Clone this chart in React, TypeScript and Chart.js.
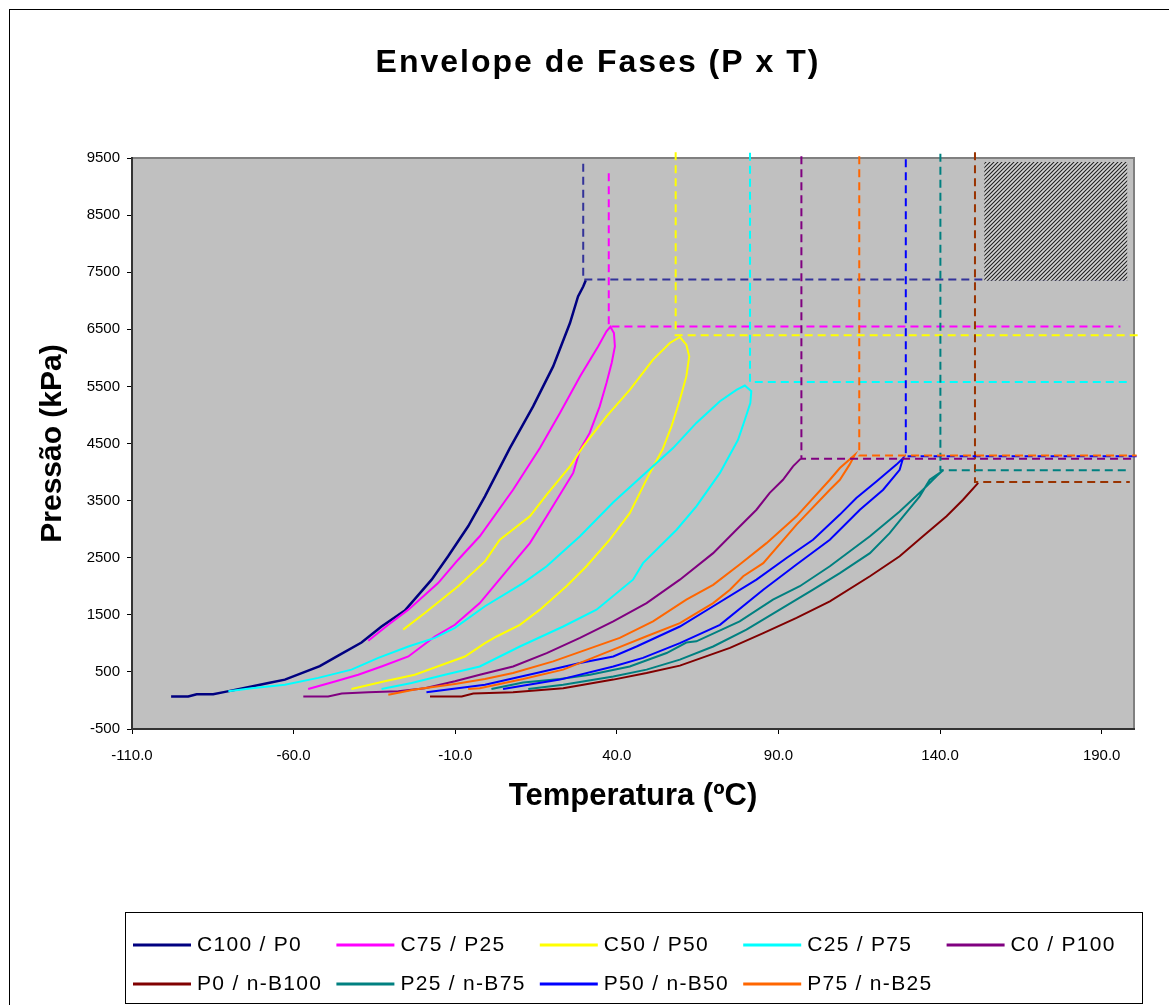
import React, { useEffect, useRef } from "react";
import { Chart, registerables } from "chart.js";

Chart.register(...registerables);

// ---------- DATA ----------
const seriesNames = [
  "C100 / P0",
  "C75 / P25",
  "C50 / P50",
  "C25 / P75",
  "C0 / P100",
  "P0 / n-B100",
  "P25 / n-B75",
  "P50 / n-B50",
  "P75 / n-B25",
];
const seriesColors = ["#000080", "#FF00FF", "#FFFF00", "#00FFFF", "#800080", "#800000", "#008080", "#0000FF", "#FF6600"];
const dashColors = ["#333399", "#FF00FF", "#FFFF00", "#00FFFF", "#800080", "#993300", "#008080", "#0000FF", "#FF6600"];

// Temperatures (ºC) and pressures (kPa) of each phase envelope
const c100T = [-97.9, -92.6, -90.0, -84.9, -81.2, -73.0, -67.8, -62.7, -57.5, -51.9, -46.2, -39.0, -32.8, -25.6, -17.3, -12.2, -6.0, -0.8, 6.9, 14.1, 20.3, 25.5, 28.0, 29.6, 30.4];
const c100P = [70, 70, 110, 110, 150, 245, 305, 365, 480, 600, 785, 1015, 1295, 1575, 2115, 2525, 3050, 3575, 4420, 5150, 5850, 6610, 7075, 7250, 7360];

const c75T = [-36.9, -30.7, -24.5, -15.3, -9.1, -2.4, 7.9, 16.2, 22.4, 28.6, 34.2, 36.8, 38.0, 39.1, 39.4, 38.4, 36.8, 34.7, 31.6, 28.6, 26.5, 18.3, 13.1, 7.9, -2.4, -10.1, -16.3, -24.5, -32.8, -40.0, -48.3, -55.5];
const c75P = [1045, 1325, 1590, 2055, 2465, 2875, 3690, 4420, 5035, 5675, 6200, 6465, 6545, 6435, 6200, 5910, 5560, 5150, 4685, 4390, 3985, 3225, 2755, 2405, 1705, 1325, 1120, 770, 595, 450, 315, 200];

const c50T = [-26.1, -19.4, -9.1, -0.8, 3.8, 13.1, 18.3, 25.5, 29.6, 36.8, 44.0, 51.2, 56.4, 59.5, 61.5, 62.4, 61.5, 59.5, 56.9, 54.1, 50.2, 44.0, 37.8, 30.6, 24.4, 16.2, 10.0, 2.8, -0.8, -7.0, -22.5, -31.8, -42.1];
const c50P = [1240, 1530, 2000, 2435, 2815, 3225, 3605, 4100, 4450, 4975, 5440, 5970, 6260, 6365, 6230, 6025, 5675, 5265, 4800, 4390, 3985, 3280, 2815, 2350, 2000, 1590, 1325, 1120, 1005, 770, 450, 335, 200];

const c25T = [-80.2, -73.0, -62.7, -52.4, -42.1, -33.8, -24.5, -16.3, -10.1, -0.8, 11.0, 18.3, 28.6, 38.9, 49.2, 57.4, 64.6, 71.9, 77.0, 79.6, 81.6, 81.3, 79.6, 77.5, 71.9, 64.6, 58.5, 48.1, 45.0, 33.7, 23.4, 10.0, -2.4, -13.2, -23.5, -32.8];
const c25P = [160, 215, 275, 395, 540, 745, 945, 1095, 1270, 1650, 2055, 2350, 2875, 3470, 4000, 4420, 4860, 5240, 5440, 5515, 5415, 5210, 4915, 4565, 3985, 3400, 2990, 2405, 2115, 1590, 1295, 945, 595, 450, 305, 200];

const c0T = [-57.0, -49.3, -45.1, -36.9, -27.6, -19.4, -10.1, -2.4, 7.9, 18.3, 28.6, 38.9, 49.2, 59.5, 69.8, 77.0, 83.2, 87.3, 91.4, 94.5, 96.9];
const c0P = [70, 70, 120, 145, 160, 215, 335, 450, 595, 830, 1095, 1385, 1705, 2115, 2580, 2990, 3340, 3635, 3865, 4100, 4235];

const nb100T = [-17.8, -8.0, -4.4, 7.9, 23.4, 38.9, 49.2, 59.5, 75.0, 85.3, 95.6, 105.9, 118.3, 127.5, 134.7, 142.0, 147.1, 151.8];
const nb100P = [70, 70, 120, 145, 215, 365, 480, 610, 920, 1180, 1445, 1735, 2175, 2525, 2875, 3225, 3515, 3810];

const p25T = [1.2, 11.0, 22.4, 31.7, 44.0, 55.4, 61.5, 64.6, 78.0, 88.3, 96.6, 105.9, 118.3, 127.5, 134.7, 138.9, 140.9, 139.9, 136.8, 133.7, 128.6, 124.4, 118.3, 109.0, 100.7, 90.4, 80.1, 69.8, 59.5, 49.2, 38.9, 23.4, 12.6];
const p25P = [200, 315, 375, 450, 595, 830, 1015, 1035, 1385, 1765, 2000, 2350, 2875, 3310, 3690, 3925, 4030, 3985, 3865, 3575, 3225, 2930, 2580, 2230, 1940, 1590, 1240, 945, 715, 540, 420, 275, 200];

const p50T = [-18.9, -0.8, 15.2, 28.6, 38.9, 46.1, 59.5, 69.8, 83.2, 92.5, 100.7, 109.0, 114.1, 120.3, 126.5, 128.6, 128.4, 127.5, 122.4, 115.2, 105.9, 95.6, 85.3, 71.9, 59.5, 48.1, 38.9, 22.4, 4.8];
const p50P = [145, 275, 480, 655, 770, 945, 1295, 1650, 2115, 2495, 2815, 3255, 3545, 3835, 4130, 4245, 4215, 4040, 3690, 3340, 2815, 2380, 1940, 1325, 1005, 745, 595, 365, 200];

const p75T = [-30.7, -22.5, -10.1, -0.8, 7.9, 20.3, 30.6, 40.9, 51.2, 61.5, 69.8, 78.0, 86.3, 95.6, 105.9, 109.0, 113.6, 112.0, 109.0, 105.9, 95.6, 85.3, 79.1, 75.0, 69.8, 59.5, 49.2, 38.9, 23.4, 11.0, -2.4, -6.0];
const p75P = [100, 190, 290, 375, 480, 685, 890, 1095, 1385, 1765, 2025, 2380, 2755, 3225, 3865, 4070, 4300, 4130, 3865, 3690, 3080, 2405, 2175, 1940, 1705, 1355, 1125, 890, 540, 375, 215, 200];

const seriesT = [c100T, c75T, c50T, c25T, c0T, nb100T, p25T, p50T, p75T];
const seriesP = [c100P, c75P, c50P, c25P, c0P, nb100P, p25P, p50P, p75P];

// Critical-point guide lines (dashed): corner (T, P), top of vertical, end of horizontal
const critT = [29.6, 37.5, 58.2, 81.2, 97.1, 150.8, 140.1, 129.4, 115.0];
const critP = [7370, 6550, 6395, 5575, 4235, 3825, 4030, 4275, 4290];
const dashTopP = [9400, 9235, 9600, 9590, 9530, 9600, 9575, 9480, 9530];
const dashEndT = [197.6, 195.8, 201.2, 199.2, 200.0, 198.7, 197.9, 201.2, 200.8];

// Hatched region (top right)
const hatchT = [153.7, 197.9];
const hatchP = [7350, 9430];

// Axis ticks
const xTickValues = [-110, -60, -10, 40, 90, 140, 190];
const yTickValues = [-500, 500, 1500, 2500, 3500, 4500, 5500, 6500, 7500, 8500, 9500];

// ---------- STYLE / LAYOUT ----------
const FONT = '"Liberation Sans", Arial, Helvetica, sans-serif';
const W = 1169;
const H = 1005;

function makeHatch(): any {
  const c = document.createElement("canvas");
  c.width = 4;
  c.height = 4;
  const g = c.getContext("2d");
  if (!g) return "#555";
  g.fillStyle = "#d4d4d4";
  g.fillRect(0, 0, 4, 4);
  g.strokeStyle = "#202020";
  g.lineWidth = 1.1;
  g.beginPath();
  g.moveTo(-1, 5);
  g.lineTo(5, -1);
  g.moveTo(-1, 1);
  g.lineTo(1, -1);
  g.moveTo(3, 5);
  g.lineTo(5, 3);
  g.stroke();
  return g.createPattern(c, "repeat") || "#555";
}

const framePlugin = {
  id: "excelFrame",
  beforeDraw(chart: any) {
    const { ctx, chartArea } = chart;
    ctx.save();
    ctx.fillStyle = "#ffffff";
    ctx.fillRect(0, 0, chart.width, chart.height);
    ctx.strokeStyle = "#000";
    ctx.lineWidth = 1;
    ctx.strokeRect(9.5, 9.5, chart.width + 20, chart.height + 20);
    ctx.fillStyle = "#C0C0C0";
    ctx.fillRect(chartArea.left, chartArea.top, chartArea.right - chartArea.left, chartArea.bottom - chartArea.top);
    ctx.strokeStyle = "#808080";
    ctx.lineWidth = 2;
    ctx.strokeRect(chartArea.left, chartArea.top, chartArea.right - chartArea.left, chartArea.bottom - chartArea.top);
    ctx.restore();

    const tb = chart.titleBlock;
    if (tb && !tb.__wrapped) {
      const orig = tb.draw.bind(tb);
      tb.draw = (...args: any[]) => {
        const c = chart.ctx;
        c.save();
        c.translate(31, 0);
        c.letterSpacing = "2px";
        orig(...args);
        c.restore();
      };
      tb.__wrapped = true;
    }
  },
};

const legendPlugin = {
  id: "gridLegend",
  afterDraw(chart: any) {
    const { ctx } = chart;
    const items = chart.data.datasets.filter((d: any) => d.inLegend);
    ctx.save();
    ctx.setLineDash([]);
    ctx.strokeStyle = "#000";
    ctx.lineWidth = 1;
    ctx.strokeRect(125.5, 912.5, 1017, 91);
    const rowY = [945, 984];
    items.forEach((ds: any, i: number) => {
      const row = Math.floor(i / 5);
      const col = i % 5;
      const x = 133 + col * 203.4;
      const y = rowY[row];
      ctx.strokeStyle = ds.borderColor;
      ctx.lineWidth = 3;
      ctx.beginPath();
      ctx.moveTo(x, y);
      ctx.lineTo(x + 58, y);
      ctx.stroke();
      ctx.fillStyle = "#000";
      ctx.font = `21px ${FONT}`;
      ctx.textBaseline = "middle";
      ctx.textAlign = "left";
      ctx.letterSpacing = "1.3px";
      ctx.fillText(ds.label, x + 64, y);
    });
    ctx.restore();
  },
};

export default function App() {
  const ref = useRef<HTMLCanvasElement>(null);

  useEffect(() => {
    if (!ref.current) return;
    const datasets: any[] = [];
    seriesNames.forEach((name, i) => {
      datasets.push({
        label: name,
        inLegend: true,
        data: seriesT[i].map((t, k) => ({ x: t, y: seriesP[i][k] })),
        borderColor: seriesColors[i],
        backgroundColor: seriesColors[i],
        borderWidth: i === 0 ? 2.5 : 2,
        pointRadius: 0,
        tension: 0,
        fill: false,
        order: -i,
      });
    });
    seriesNames.forEach((name, i) => {
      datasets.push({
        label: name + " (crit)",
        inLegend: false,
        data: [
          { x: critT[i], y: dashTopP[i] },
          { x: critT[i], y: critP[i] },
          { x: dashEndT[i], y: critP[i] },
        ],
        borderColor: dashColors[i],
        backgroundColor: dashColors[i],
        borderWidth: 2,
        borderDash: [8, 5],
        pointRadius: 0,
        tension: 0,
        fill: false,
        clip: false,
        order: -20 - i,
      });
    });
    datasets.push({
      label: "hatch",
      inLegend: false,
      data: [
        { x: hatchT[0], y: hatchP[0] },
        { x: hatchT[1], y: hatchP[0] },
        { x: hatchT[1], y: hatchP[1] },
        { x: hatchT[0], y: hatchP[1] },
        { x: hatchT[0], y: hatchP[0] },
      ],
      borderColor: "rgba(0,0,0,0)",
      borderWidth: 0,
      backgroundColor: makeHatch(),
      fill: "shape",
      pointRadius: 0,
      tension: 0,
      order: -40,
    });

    const chart = new Chart(ref.current, {
      type: "line",
      data: { datasets },
      options: {
        responsive: false,
        animation: false,
        devicePixelRatio: 1,
        layout: { padding: { left: 0, right: 35, top: 0, bottom: 176 } },
        plugins: {
          legend: { display: false },
          tooltip: { enabled: false },
          title: {
            display: true,
            text: "Envelope de Fases (P x T)",
            color: "#000",
            font: { family: FONT, size: 32, weight: "bold" },
            padding: { top: 43.8, bottom: 75.8 },
          },
        },
        scales: {
          x: {
            type: "linear",
            min: -110,
            max: 200,
            afterBuildTicks: (s: any) => {
              s.ticks = xTickValues.map((v) => ({ value: v }));
            },
            afterFit: (s: any) => {
              s.height = 100;
            },
            grid: { drawOnChartArea: false, drawTicks: true, tickLength: 5, color: "#000", tickColor: "#000" },
            border: { display: true, color: "#333", width: 2 },
            ticks: {
              autoSkip: false,
              maxRotation: 0,
              padding: 13,
              color: "#000",
              font: { family: FONT, size: 15 },
              callback: (v: any) => Number(v).toFixed(1),
            },
            title: {
              display: true,
              text: "Temperatura (ºC)",
              color: "#000",
              font: { family: FONT, size: 31, weight: "bold" },
              padding: { top: 0, bottom: 14 },
            },
          },
          y: {
            type: "linear",
            min: -500,
            max: 9500,
            afterBuildTicks: (s: any) => {
              s.ticks = yTickValues.map((v) => ({ value: v }));
            },
            afterFit: (s: any) => {
              s.width = 132;
            },
            grid: { drawOnChartArea: false, drawTicks: true, tickLength: 5, color: "#000", tickColor: "#000" },
            border: { display: true, color: "#333", width: 2 },
            ticks: {
              autoSkip: false,
              padding: 7,
              color: "#000",
              font: { family: FONT, size: 15 },
              callback: (v: any) => String(v),
            },
            title: {
              display: true,
              text: "Pressão (kPa)",
              color: "#000",
              font: { family: FONT, size: 30, weight: "bold" },
              padding: { top: 35, bottom: 0 },
            },
          },
        },
      } as any,
      plugins: [framePlugin, legendPlugin],
    });
    return () => chart.destroy();
  }, []);

  return (
    <>
      <style>{"html,body{margin:0;padding:0;overflow:hidden;background:#fff}"}</style>
      <div style={{ width: W, height: H, position: "relative" }}>
        <canvas ref={ref} width={W} height={H} style={{ display: "block", width: W, height: H }} />
      </div>
    </>
  );
}
